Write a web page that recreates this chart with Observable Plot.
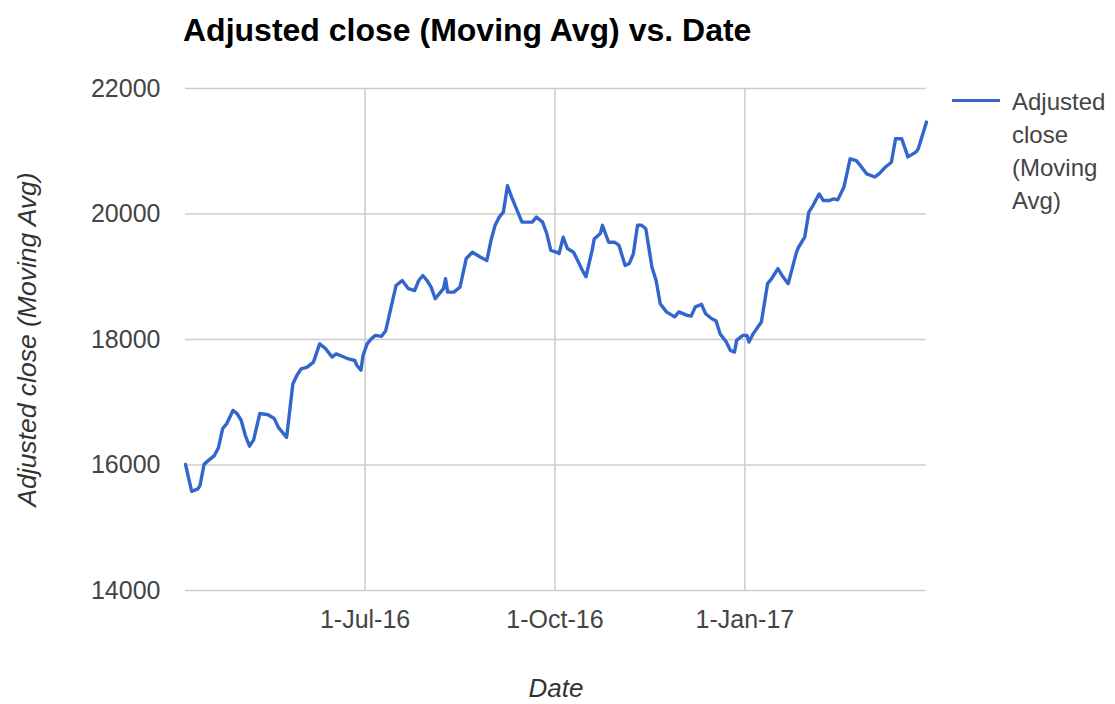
<!DOCTYPE html>
<html>
<head>
<meta charset="utf-8">
<script src="https://cdn.jsdelivr.net/npm/d3@7"></script>
<script src="https://cdn.jsdelivr.net/npm/@observablehq/plot@0.6"></script>
<style>
  html, body { margin: 0; padding: 0; background: #fff; }
  #wrap { position: relative; width: 1115px; height: 704px; font-family: "Liberation Sans", Arial, sans-serif; }
  #title { height: 60px; line-height: 60px; padding-left: 183px; font-size: 32px; font-weight: bold; color: #000; white-space: nowrap; }
  #legend-swatch { position: absolute; left: 952px; top: 99px; width: 48px; height: 3px; background: #3366cc; }
  #legend-text { position: absolute; left: 1012px; top: 85px; font-size: 24px; line-height: 33px; color: #444; }
</style>
</head>
<body>
<div id="wrap">
  <div id="title">Adjusted close (Moving Avg) vs. Date</div>
  <div id="chart"></div>
  <div id="legend-swatch"></div>
  <div id="legend-text">Adjusted<br>close<br>(Moving<br>Avg)</div>
</div>
<script>
const dates = [
  "2016-04-05","2016-04-08","2016-04-11","2016-04-12","2016-04-14","2016-04-16","2016-04-19","2016-04-21","2016-04-23","2016-04-25",
  "2016-04-28","2016-04-30","2016-05-02","2016-05-04","2016-05-06","2016-05-08","2016-05-11","2016-05-15","2016-05-18","2016-05-20",
  "2016-05-24","2016-05-27","2016-05-29","2016-05-31","2016-06-03","2016-06-06","2016-06-09","2016-06-12","2016-06-15","2016-06-17",
  "2016-06-19","2016-06-23","2016-06-26","2016-06-27","2016-06-29","2016-06-30","2016-07-02","2016-07-04","2016-07-06","2016-07-09",
  "2016-07-11","2016-07-14","2016-07-16","2016-07-19","2016-07-22","2016-07-25","2016-07-27","2016-07-29","2016-07-31","2016-08-02",
  "2016-08-04","2016-08-06","2016-08-08","2016-08-09","2016-08-10","2016-08-13","2016-08-16","2016-08-19","2016-08-22","2016-08-26",
  "2016-08-29","2016-08-31","2016-09-02","2016-09-04","2016-09-06","2016-09-08","2016-09-10","2016-09-12","2016-09-15","2016-09-18",
  "2016-09-20","2016-09-22","2016-09-25","2016-09-27","2016-09-29","2016-10-02","2016-10-03","2016-10-05","2016-10-07","2016-10-10",
  "2016-10-12","2016-10-14","2016-10-16","2016-10-19","2016-10-20","2016-10-23","2016-10-24","2016-10-27","2016-10-30","2016-11-01",
  "2016-11-04","2016-11-06","2016-11-08","2016-11-10","2016-11-12","2016-11-14","2016-11-17","2016-11-19","2016-11-21","2016-11-24",
  "2016-11-28","2016-11-30","2016-12-04","2016-12-06","2016-12-08","2016-12-11","2016-12-13","2016-12-16","2016-12-18","2016-12-20",
  "2016-12-23","2016-12-25","2016-12-27","2016-12-28","2016-12-31","2017-01-02","2017-01-03","2017-01-05","2017-01-09","2017-01-12",
  "2017-01-14","2017-01-17","2017-01-19","2017-01-22","2017-01-26","2017-01-27","2017-01-30","2017-02-01","2017-02-03","2017-02-06",
  "2017-02-08","2017-02-11","2017-02-13","2017-02-15","2017-02-18","2017-02-21","2017-02-24","2017-02-26","2017-03-01","2017-03-05",
  "2017-03-07","2017-03-10","2017-03-13","2017-03-15","2017-03-18","2017-03-21","2017-03-25","2017-03-26","2017-03-30"
];
const values = [
  16010,15580,15620,15670,16010,16070,16150,16280,16580,16660,
  16870,16820,16710,16470,16300,16400,16820,16800,16740,16600,
  16440,17290,17430,17530,17560,17640,17930,17850,17720,17770,
  17745,17690,17665,17590,17510,17745,17930,18010,18065,18050,
  18140,18570,18860,18940,18810,18780,18940,19020,18940,18835,
  18650,18730,18810,18970,18755,18755,18835,19290,19390,19310,
  19260,19580,19820,19950,20030,20450,20270,20110,19870,19870,
  19870,19950,19870,19690,19420,19390,19370,19630,19450,19390,
  19260,19120,19000,19420,19600,19690,19820,19550,19550,19500,
  19180,19210,19370,19820,19820,19765,19150,18940,18570,18440,
  18360,18440,18385,18375,18520,18560,18410,18330,18300,18090,
  17960,17825,17800,17985,18065,18065,17960,18090,18280,18890,
  18970,19130,19020,18890,19390,19470,19630,20030,20135,20320,
  20215,20215,20240,20225,20430,20880,20850,20770,20640,20590,
  20640,20745,20825,21200,21200,20910,20990,21040,21465
];
const yTicks = [14000, 16000, 18000, 20000, 22000];
const xTickDates = ["2016-07-01", "2016-10-01", "2017-01-01"];
const seriesName = "Adjusted close (Moving Avg)";
const xTitle = "Date";

const data = dates.map((d, i) => ({date: new Date(d + "T00:00:00Z"), value: values[i]}));
const xTicks = xTickDates.map(d => new Date(d + "T00:00:00Z"));

const chart = Plot.plot({
  width: 1115,
  height: 644,
  marginTop: 28,
  marginBottom: 114,
  marginLeft: 185,
  marginRight: 189,
  style: {fontFamily: '"Liberation Sans", Arial, sans-serif', fontSize: "25px", background: "#fff", overflow: "visible"},
  x: {type: "utc", domain: d3.extent(data, d => d.date)},
  y: {domain: [14000, 22000]},
  marks: [
    Plot.gridY(yTicks, {stroke: "#cccccc", strokeOpacity: 1, strokeWidth: 1.5}),
    Plot.gridX(xTicks, {stroke: "#cccccc", strokeOpacity: 1, strokeWidth: 1.5}),
    Plot.axisY({ticks: yTicks, tickSize: 0, tickPadding: 25, tickFormat: d3.format("d"), label: null, fill: "#444", fontSize: 25}),
    Plot.axisX({ticks: xTicks, tickSize: 0, tickPadding: 20, tickFormat: d3.utcFormat("%-d-%b-%y"), label: null, fill: "#444", fontSize: 25}),
    Plot.line(data, {x: "date", y: "value", stroke: "#3366cc", strokeWidth: 3.4, strokeLinejoin: "round"}),
    Plot.text([seriesName], {frameAnchor: "left", textAnchor: "middle", dx: -158, rotate: -90, fontStyle: "italic", fontSize: 26.5, fill: "#333"}),
    Plot.text([xTitle], {frameAnchor: "bottom", dy: 106, fontStyle: "italic", fontSize: 26, fill: "#333"})
  ]
});
document.getElementById("chart").appendChild(chart);
</script>
</body>
</html>
